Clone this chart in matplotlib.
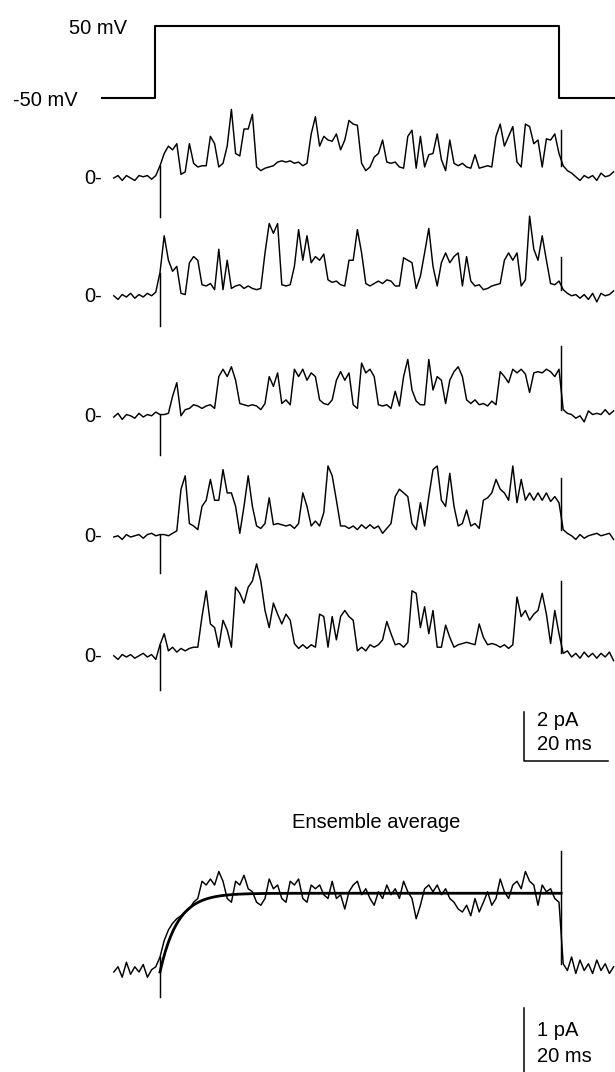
import matplotlib.pyplot as plt
import numpy as np

plt.rcParams['font.family'] = ['Liberation Sans', 'DejaVu Sans']

# sweep time base in ms, one sample per ms
t = np.arange(-11, 109)
pulse_on, pulse_off = 0.0, 95.5

# command voltage protocol
v_hold, v_step = -50, 50
v_on, v_off = -1.2, 95.0

# single-channel sweeps (pA)
sweep1 = [0.0, 0.1, -0.1, 0.1, 0.0, -0.1, 0.1, 0.05, 0.1, -0.05, 0.1,
          0.5,
          1.0, 1.3, 1.15, 1.4, 0.15, 0.25, 1.4, 0.6, 0.45, 0.5, 0.5, 1.7, 1.4, 0.45, 0.6, 1.3, 2.8, 1.0, 0.9, 2.0,
          2.0, 2.6, 0.45, 0.3, 0.4, 0.45, 0.5, 0.65, 0.7, 0.65, 0.7, 0.6, 0.65, 0.5, 0.6, 1.8, 2.5, 1.3, 1.7, 1.55, 1.5,
          1.8, 1.15, 1.55, 2.35, 2.2, 2.15, 0.6, 0.3, 0.45, 0.85, 1.0, 1.55, 0.65, 0.6, 0.65, 0.45, 0.4, 1.7,
          1.95, 0.4, 1.7, 0.45, 0.95, 1.0, 1.8, 0.75, 0.3, 1.55, 0.6, 0.5, 0.6, 0.45, 0.4, 0.95, 0.4, 0.45,
          0.5, 0.45, 1.7, 2.2, 1.3, 1.7, 2.1, 0.65, 0.45, 2.2, 2.1, 1.4, 1.55, 0.45, 1.6, 1.55, 1.8, 1.0,
          0.5, 0.3, 0.2, 0.05, -0.1, 0.1, 0.0, 0.1, -0.1, 0.2, 0.05, 0.1, 0.25]
sweep2 = [0.05, -0.1, 0.1, 0.0, 0.15, -0.05, 0.1, 0.0, 0.15, 0.05, 0.2,
          1.0,
          2.5, 1.5, 1.05, 1.25, 0.15, 0.1, 1.4, 1.65, 1.5, 0.5, 0.45, 0.55, 0.3, 1.95, 0.3, 1.5, 0.35, 0.45, 0.5,
          0.35, 0.45, 0.35, 0.3, 0.35, 1.8, 3.0, 2.6, 3.0, 0.5, 0.45, 0.5, 1.25, 2.75, 1.5, 2.5, 1.4, 1.65, 1.5,
          1.75, 0.7, 0.6,
          0.65, 0.5, 0.45, 1.5, 1.5, 2.75, 1.8, 0.55, 0.45, 0.55, 0.65, 0.55, 0.7, 0.65, 0.45, 0.45, 1.6, 1.5,
          1.4, 0.35, 0.85, 1.8, 2.8, 1.25, 0.45, 1.4, 1.8, 1.4, 1.65, 1.8, 0.45, 1.65, 0.65, 0.45, 0.5, 0.3,
          0.35, 0.45, 0.5, 0.55, 1.5, 1.8, 1.5, 1.8, 0.45, 0.7, 3.3, 1.95, 1.5, 2.5, 1.5, 0.55, 0.5, 0.65,
          0.3, 0.15, 0.05, 0.1, -0.05, 0.1, -0.1, 0.15, -0.2, 0.15, 0.05, 0.1, 0.25]
sweep3 = [0.0, 0.15, -0.1, 0.1, 0.05, -0.05, 0.15, 0.0, 0.1, 0.05, 0.2,
          0.1,
          0.1, 0.15, 0.85, 1.4, 0.05, 0.3, 0.35, 0.5, 0.45, 0.35, 0.45, 0.5, 0.35, 1.65, 1.95, 1.65, 2.05, 1.5,
          0.55, 0.5, 0.45, 0.5, 0.45, 0.3, 0.55, 1.65, 1.25, 1.8, 0.55, 0.7, 0.5, 1.95, 1.65, 1.95, 1.5, 1.8,
          1.65, 0.7, 0.55, 0.5, 0.7,
          1.5, 1.85, 1.5, 1.8, 0.5, 0.35, 2.2, 1.8, 1.95, 1.65, 0.5, 0.45, 0.5, 0.35, 1.05, 0.45, 1.65, 2.35,
          1.1, 0.65, 0.5, 0.5, 2.35, 1.1, 1.65, 1.5, 0.55, 1.5, 1.85, 2.05, 1.65, 0.7, 0.55, 0.7, 0.5, 0.55,
          0.45, 0.65, 0.5, 1.85, 1.65, 1.4, 1.95, 1.8, 1.95, 1.75, 1.0, 1.8, 1.85, 1.8, 1.95, 1.85, 1.65, 1.95,
          0.3, 0.15, 0.1, -0.05, 0.05, -0.2, 0.25, 0.1, 0.15, 0.1, 0.3, 0.1, 0.25]
sweep4 = [0.0, 0.05, -0.1, 0.1, 0.0, 0.05, 0.1, -0.05, 0.1, 0.15, 0.05,
          0.1,
          0.1, 0.05, 0.15, 0.25, 1.95, 2.5, 0.55, 0.45, 0.3, 1.25, 1.5, 2.35, 1.5, 1.5, 2.75, 1.8, 1.8, 1.25,
          0.15, 1.25, 2.5, 1.25, 0.45, 0.35, 0.55, 1.6, 0.5, 0.55, 0.5, 0.45, 0.5, 0.35, 0.55, 1.8, 1.25, 0.45,
          0.65, 0.45, 1.0, 2.9, 2.5,
          1.5, 0.45, 0.45, 0.35, 0.45, 0.3, 0.5, 0.35, 0.5, 0.35, 0.45, 0.15, 0.35, 0.55, 1.65, 1.95, 1.8, 1.65,
          0.55, 0.3, 1.4, 0.45, 1.65, 2.75, 2.9, 1.5, 1.25, 2.6, 1.25, 0.45, 0.55, 1.1, 0.45, 0.55, 0.35, 1.5,
          1.6, 1.8, 2.35, 1.95, 1.8, 1.5, 2.9, 1.4, 2.35, 1.5, 1.8, 1.5, 1.8, 1.5, 1.8, 1.45, 1.65, 1.4,
          0.3, 0.15, 0.05, -0.1, 0.1, -0.05, 0.05, 0.1, 0.15, 0.05, 0.1, 0.15, -0.1]
sweep5 = [0.05, -0.1, 0.1, 0.0, 0.1, -0.05, 0.05, 0.15, 0.0, 0.1, -0.1,
          0.5,
          0.95, 0.25, 0.4, 0.2, 0.35, 0.25, 0.35, 0.4, 0.4, 1.65, 2.7, 1.35, 1.2, 0.4, 1.5, 1.1, 0.4, 2.85, 2.6,
          2.2, 2.85, 3.1, 3.8, 3.1, 1.9, 1.2, 2.2, 1.75, 1.35, 1.75, 1.5, 0.55, 0.35, 0.5, 0.35, 0.5, 0.4, 1.75,
          1.65, 0.4, 1.65,
          0.7, 1.65, 1.9, 1.65, 1.5, 0.25, 0.4, 0.25, 0.5, 0.4, 0.5, 0.7, 1.45, 0.95, 0.5, 0.55, 0.4, 0.6,
          2.7, 2.6, 1.2, 2.05, 0.95, 1.9, 0.4, 0.4, 1.3, 0.8, 0.4, 0.5, 0.55, 0.6, 0.55, 0.5, 1.35, 0.8,
          0.5, 0.55, 0.5, 0.4, 0.5, 0.35, 0.5, 2.45, 1.65, 1.9, 1.5, 1.75, 1.9, 2.6, 1.75, 0.55, 1.9, 0.95,
          0.15, 0.25, 0.0, 0.15, -0.05, 0.2, 0.0, 0.15, -0.05, 0.15, 0.0, 0.2, -0.15]
sweeps = [sweep1, sweep2, sweep3, sweep4, sweep5]

# capacitive transients at the voltage steps (pA)
onset_spike = [-1.6, -1.2, -1.55, -1.45, -1.35]
offset_spike = [1.95, 1.65, 2.9, 2.4, 3.1]

# ensemble average (pA) and its exponential fit
ensemble = [0.0, 0.07, -0.07, 0.13, -0.03, 0.07, 0.0, 0.1, -0.07, 0.03, 0.07,
            0.2,
            0.42, 0.56, 0.65, 0.71, 0.75, 0.8, 0.84, 0.93, 0.98, 1.21, 1.16, 1.24, 1.16, 1.34, 1.21, 0.98,
            0.93, 1.21, 1.16, 1.29, 1.11, 1.07, 0.93, 0.89, 0.98, 1.24, 1.11, 1.16, 0.98, 0.93, 1.21, 1.16,
            1.24, 0.98, 0.93, 1.16, 1.11, 1.16, 1.03, 0.98, 1.21,
            0.98, 1.03, 0.84, 1.07, 1.16, 1.21, 1.03, 1.11, 0.98, 0.89, 1.07, 0.98, 1.16, 1.03, 1.11, 0.98,
            1.21, 1.07, 0.98, 0.71, 0.89, 1.11, 1.16, 1.07, 1.16, 1.03, 1.11, 0.98, 0.93, 0.84, 0.8, 0.89,
            0.75, 0.98, 0.8, 0.93, 1.07, 0.89, 0.98, 1.24, 1.07, 0.98, 1.16, 1.21, 1.11, 1.34, 1.21, 1.16,
            0.89, 1.16, 1.07, 1.11, 0.98, 0.93,
            0.11, 0.02, 0.2, -0.02, 0.16, 0.02, 0.11, -0.02, 0.16, 0.02, 0.11, -0.02, 0.07]
ens_onset_spike, ens_offset_spike = -0.33, 1.61
fit_amp, fit_tau = 1.05, 4.2

# ---- layout (pixel anchors on a 615 x 1072 canvas) ----
W, H = 615, 1072
x0_px = 160        # pulse onset
ms_px = 4.2        # pixels per ms
pa_px = 24.5       # pixels per pA for single sweeps
ens_pa_px = 75.0   # pixels per pA for the ensemble
mv_px = 0.725      # pixels per mV


def tx(px):
    return (px - x0_px) / ms_px


def ty(px):
    return -px / pa_px


fig = plt.figure(figsize=(W / 100, H / 100), dpi=100)
ax = fig.add_axes([0, 0, 1, 1])
ax.set_xlim(tx(0), tx(W))
ax.set_ylim(ty(H), ty(0))
ax.axis('off')

fs = 14.5
lc = 'black'
tw = 1.05   # trace line width

# voltage command
def vy(v):
    return ty(98 - (v - v_hold) * mv_px)

vt = [tx(102), v_on, v_on, v_off, v_off, tx(W)]
vv = [v_hold, v_hold, v_step, v_step, v_hold, v_hold]
ax.plot(vt, [vy(v) for v in vv], color=lc, lw=1.5)
ax.text(tx(127), ty(29), f'{v_step} mV', ha='right', va='center', fontsize=fs)
ax.text(tx(78), ty(100), f'{v_hold} mV', ha='right', va='center', fontsize=fs)

# single-channel sweeps
rows_px = [178, 297, 417, 537, 657]
i0 = int(np.where(t == 0)[0][0])
i_after = int(np.where(t == 96)[0][0])
for sweep, row, s_on, s_off in zip(sweeps, rows_px, onset_spike, offset_spike):
    base = ty(row)
    y = base + np.array(sweep)
    ax.plot(t, y, color=lc, lw=tw)
    ax.plot([pulse_on, pulse_on], [y[i0], base + s_on], color=lc, lw=tw)
    ax.plot([pulse_off, pulse_off], [y[i_after], base + s_off], color=lc, lw=tw)
    ax.text(tx(102), base, '0-', ha='right', va='center', fontsize=fs)

# scale bar for sweeps: 2 pA / 20 ms
sb_x, sb_y = tx(524), ty(761)
ax.plot([sb_x, sb_x, sb_x + 20], [sb_y + 2, sb_y, sb_y], color=lc, lw=1.1)
ax.text(tx(537), ty(720), '2 pA', ha='left', va='center', fontsize=fs)
ax.text(tx(537), ty(745), '20 ms', ha='left', va='center', fontsize=fs)

# ensemble average
ens_gain = ens_pa_px / pa_px
ens_base = ty(972)
ey = ens_base + np.array(ensemble) * ens_gain
ax.plot(t, ey, color=lc, lw=tw)
ax.plot([pulse_on, pulse_on], [ey[i0], ens_base + ens_onset_spike * ens_gain], color=lc, lw=tw)
ax.plot([pulse_off, pulse_off], [ey[i_after], ens_base + ens_offset_spike * ens_gain], color=lc, lw=tw)
tf = np.linspace(pulse_on, pulse_off, 300)
ax.plot(tf, ens_base + fit_amp * (1 - np.exp(-tf / fit_tau)) * ens_gain, color=lc, lw=2.0)
ax.text(tx(376), ty(822), 'Ensemble average', ha='center', va='center', fontsize=fs)

# scale bar for ensemble: 1 pA / 20 ms (horizontal arm falls below the frame)
eb_x, eb_y = tx(524), ty(1008) - 1 * ens_gain
ax.plot([eb_x, eb_x, eb_x + 20], [eb_y + 1 * ens_gain, eb_y, eb_y], color=lc, lw=1.1)
ax.text(tx(537), ty(1031), '1 pA', ha='left', va='center', fontsize=fs)
ax.text(tx(537), ty(1057), '20 ms', ha='left', va='center', fontsize=fs)

fig.savefig('out.png', dpi=100)
